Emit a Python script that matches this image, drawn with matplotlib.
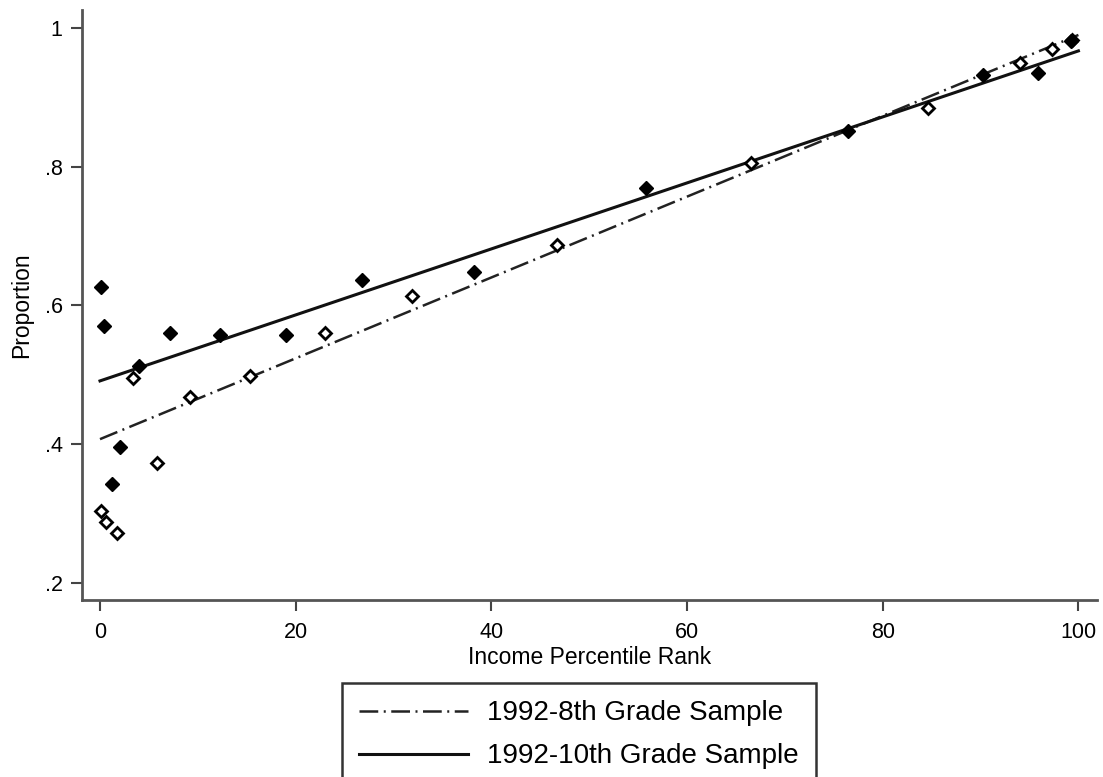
import matplotlib.pyplot as plt
import numpy as np

plt.rcParams['font.family'] = ['Liberation Sans', 'DejaVu Sans']

# binned proportions by income percentile rank
rank_10th = [0.1, 0.4, 1.2, 2.0, 4.0, 7.2, 12.3, 19.0, 26.8, 38.2, 55.8, 76.4, 90.2, 95.9, 99.2]
prop_10th = [0.627, 0.570, 0.343, 0.395, 0.512, 0.560, 0.557, 0.557, 0.637, 0.648, 0.769, 0.851, 0.932, 0.935, 0.981]

rank_8th = [0.1, 0.6, 1.7, 3.4, 5.8, 9.2, 15.3, 23.0, 31.9, 46.7, 66.5, 84.6, 94.0, 97.3, 99.3]
prop_8th = [0.304, 0.288, 0.272, 0.495, 0.372, 0.468, 0.498, 0.560, 0.614, 0.6875, 0.806, 0.884, 0.949, 0.970, 0.983]

# fitted lines: value at rank 0 and at rank 100
fit_10th = [0.491, 0.967]
fit_8th = [0.407, 0.990]
fit_x = [0, 100]

xticks = [0, 20, 40, 60, 80, 100]
yticks = [0.2, 0.4, 0.6, 0.8, 1.0]
ytick_labels = ['.2', '.4', '.6', '.8', '1']

fig = plt.figure(figsize=(11.03, 7.77), dpi=100)
ax = fig.add_axes([82 / 1103, 1 - 600 / 777, (1097 - 82) / 1103, (600 - 10) / 777])

ax.plot(rank_8th, prop_8th, 'D', ms=6, mfc='white', mec='black', mew=2, zorder=3)
ax.plot(rank_10th, prop_10th, 'D', ms=7, mfc='black', mec='black', zorder=4)

l8, = ax.plot(fit_x, fit_8th, color='#222222', lw=1.8,
              linestyle=(0, (7.5, 2.2, 0.8, 2.2)), label='1992-8th Grade Sample')
l10, = ax.plot(fit_x, fit_10th, color='#111111', lw=2.2, label='1992-10th Grade Sample')

ax.set_xlim(-1.84, 101.9)
ax.set_ylim(0.175, 1.026)
ax.set_xticks(xticks)
ax.set_yticks(yticks)
ax.set_yticklabels(ytick_labels)
ax.tick_params(labelsize=15.5, length=8, width=1.5, color='#444444', pad=6)
ax.tick_params(axis='x', pad=8)

for s in ['top', 'right']:
    ax.spines[s].set_visible(False)
for s in ['left', 'bottom']:
    ax.spines[s].set_linewidth(2)
    ax.spines[s].set_color('#555555')

ax.set_xlabel('Income Percentile Rank', fontsize=16.5, labelpad=2)
ax.set_ylabel('Proportion', fontsize=16.5, labelpad=8)

leg = fig.legend(handles=[l8, l10], loc='upper left',
                 bbox_to_anchor=(342 / 1103, 1 - 683 / 777),
                 fontsize=20, handlelength=3.9, handletextpad=0.7,
                 labelspacing=0.62, borderpad=0.62, borderaxespad=0,
                 fancybox=False, framealpha=1)
leg.get_frame().set_edgecolor('#333333')
leg.get_frame().set_linewidth(1.8)

fig.savefig('out.png', dpi=100)
